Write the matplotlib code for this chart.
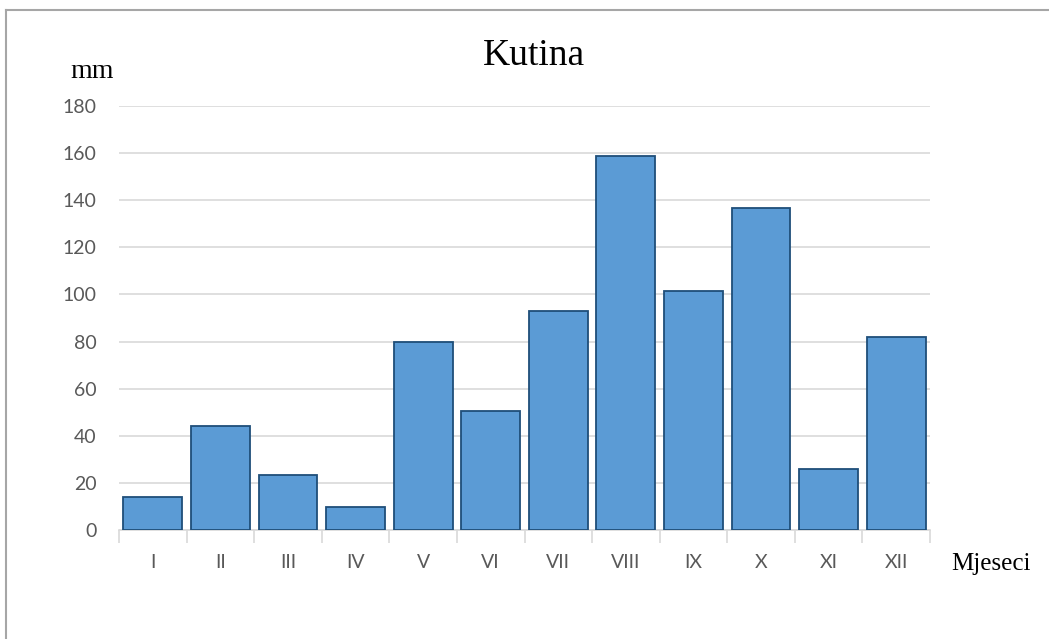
import numpy as np
import matplotlib.pyplot as plt
from matplotlib.lines import Line2D

months = ['I', 'II', 'III', 'IV', 'V', 'VI', 'VII', 'VIII', 'IX', 'X', 'XI', 'XII']
rain_mm = [13.9, 44.3, 23.5, 9.9, 79.8, 50.5, 93.0, 158.6, 101.5, 136.8, 25.9, 81.8]
yticks = [0, 20, 40, 60, 80, 100, 120, 140, 160, 180]

W, H = 1049, 639
fig = plt.figure(figsize=(W / 100, H / 100), dpi=100)
ax = fig.add_axes([119 / W, 1 - 530 / H, (930 - 119) / W, (530 - 106) / H])

x = np.arange(len(months))
ax.bar(x, rain_mm, width=0.87, color='#5B9BD5', edgecolor='#1F4E79',
       linewidth=1.3, zorder=3)

ax.set_xlim(-0.5, len(months) - 0.5)
ax.set_ylim(0, 180)
ax.set_yticks(yticks)
ax.yaxis.grid(True, color='#D9D9D9', linewidth=1.2, zorder=0)

for s in ['top', 'right', 'left']:
    ax.spines[s].set_visible(False)
ax.spines['bottom'].set_color('#D9D9D9')
ax.spines['bottom'].set_linewidth(1.2)

tick_font = dict(family=['Lato', 'DejaVu Sans'], size=14, color='#595959')
ax.set_xticks(x)
ax.set_xticklabels(months, **tick_font)
ax.set_xticks(np.arange(-0.5, len(months)), minor=True)
ax.tick_params(axis='x', which='major', length=0, pad=17)
ax.tick_params(axis='x', which='minor', length=9, color='#D9D9D9', width=1.2)
ax.tick_params(axis='y', length=0, pad=16)
for lbl in ax.get_yticklabels():
    lbl.set_fontfamily(['Lato', 'DejaVu Sans'])
    lbl.set_fontsize(14)
    lbl.set_color('#595959')

serif = ['Liberation Serif', 'DejaVu Serif']
fig.text(534 / W, 1 - 56 / H, 'Kutina', ha='center', va='center',
         family=serif, fontsize=27, color='black')
fig.text(92 / W, 1 - 71 / H, 'mm', ha='center', va='center',
         family=serif, fontsize=20, color='black')
fig.text(991 / W, 1 - 564 / H, 'Mjeseci', ha='center', va='center',
         family=serif, fontsize=18, color='black')

# chart border (top and left visible)
fig.add_artist(Line2D([5.5 / W, 5.5 / W], [0, 1 - 10 / H], transform=fig.transFigure,
                      color='#A6A6A6', linewidth=1.5))
fig.add_artist(Line2D([5.5 / W, 1], [1 - 10 / H, 1 - 10 / H], transform=fig.transFigure,
                      color='#A6A6A6', linewidth=1.5))

fig.savefig('out.png', dpi=100)
